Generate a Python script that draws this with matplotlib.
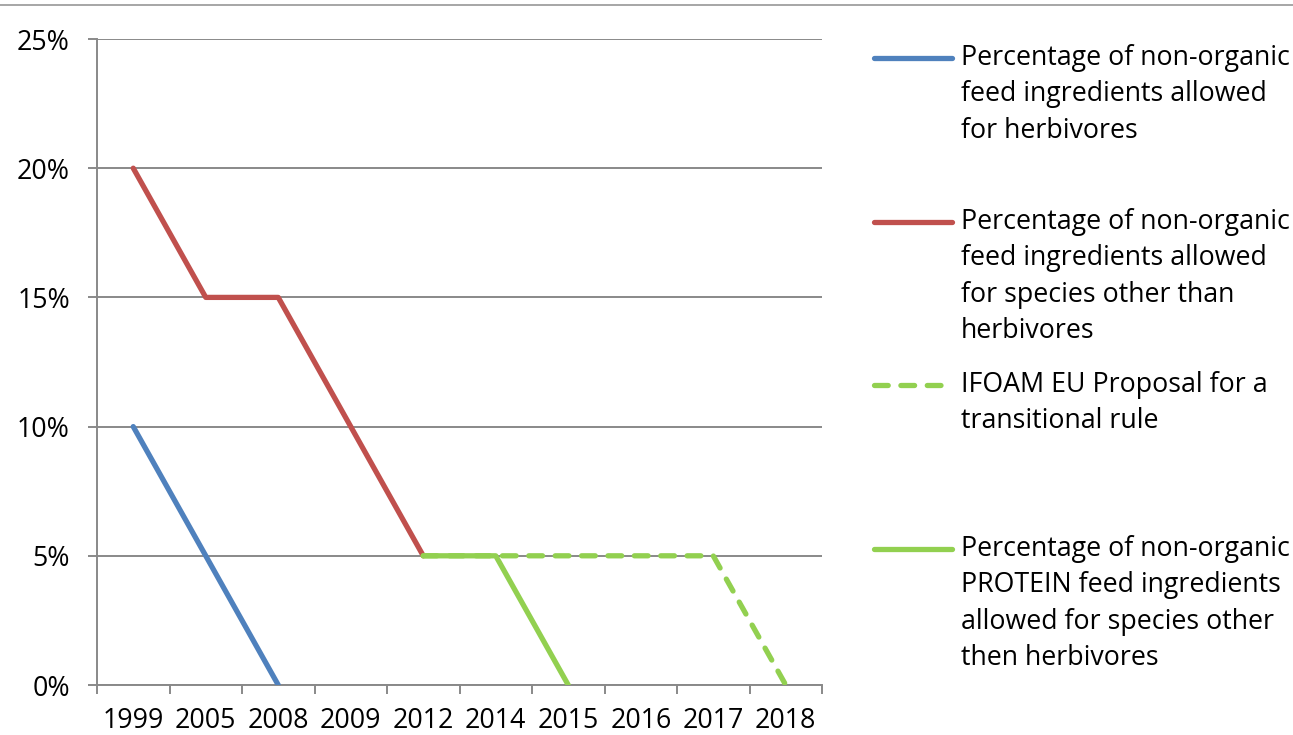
import matplotlib

matplotlib.use("Agg")
import matplotlib.pyplot as plt
from matplotlib.lines import Line2D
from matplotlib.ticker import FuncFormatter

plt.rcParams["font.family"] = ["Open Sans", "DejaVu Sans"]

# ---------------------------------------------------------------------------
# Data (values in percent).
# ---------------------------------------------------------------------------
years = ["1999", "2005", "2008", "2009", "2012", "2014", "2015", "2016", "2017", "2018"]

herbivores = [10, 5, 0]                      # 1999 .. 2008
other_species = [20, 15, 15, 10, 5]          # 1999 .. 2012
ifoam_proposal = [5, 5, 5, 5, 5, 0]          # 2012 .. 2018
protein = [5, 5, 0]                          # 2012 .. 2015

y_ticks = [0, 5, 10, 15, 20, 25]

legend_labels = [
    ["Percentage of non-organic", "feed ingredients allowed", "for herbivores"],
    ["Percentage of non-organic", "feed ingredients allowed", "for species other than", "herbivores"],
    ["IFOAM EU Proposal for a", "transitional rule"],
    ["Percentage of non-organic", "PROTEIN feed ingredients", "allowed for species other", "then herbivores"],
]

BLUE = "#4F81BD"
RED = "#C0504D"
GREEN = "#92D050"
GRID = "#898989"
FS = 19.3

W, H = 1293, 735
fig = plt.figure(figsize=(W / 100, H / 100), dpi=100)
ax = fig.add_axes([97 / W, 1 - 685 / H, (822 - 97) / W, (685 - 39) / H])

lw = 3.8
ax.plot(years[:3], herbivores, color=BLUE, lw=lw, solid_capstyle="round", zorder=3)
ax.plot(years[:5], other_species, color=RED, lw=lw, solid_capstyle="round", zorder=3)
ax.plot(years[4:], ifoam_proposal, color=GREEN, lw=lw, dashes=(2.6, 2.4),
        dash_capstyle="round", zorder=3)
ax.plot(years[4:7], protein, color=GREEN, lw=lw, solid_capstyle="round", zorder=4)

ax.set_xlim(-0.5, len(years) - 0.5)
ax.set_ylim(0, 25)
ax.set_yticks(y_ticks)
ax.yaxis.set_major_formatter(FuncFormatter(lambda v, _: f"{v:.0f}%"))
ax.yaxis.grid(True, color=GRID, lw=1.4, zorder=0)
ax.set_axisbelow(True)

# category boundaries carry the tick marks, labels sit in the middle
ax.set_xticks([i - 0.5 for i in range(len(years) + 1)], minor=True)
ax.tick_params(axis="x", which="major", length=0, pad=16, labelsize=FS)
ax.tick_params(axis="x", which="minor", length=6.5, width=1.4, color=GRID, direction="out")
ax.tick_params(axis="y", length=6.5, width=1.4, color=GRID, pad=13, labelsize=FS)

for side in ("top", "right"):
    ax.spines[side].set_visible(False)
for side in ("left", "bottom"):
    ax.spines[side].set_color(GRID)
    ax.spines[side].set_linewidth(1.4)

# thin frame line along the top of the image
fig.add_artist(Line2D([0, 1], [1 - 5 / H, 1 - 5 / H], color="#a6a6a6", lw=1.4))

# hand-made legend with wrapped labels
styles = [
    dict(color=BLUE),
    dict(color=RED),
    dict(color=GREEN, dashes=(2.6, 2.4), dash_capstyle="round"),
    dict(color=GREEN),
]
first_rows = [58, 222, 385, 549]
row_step = 36.3
for style, lines, y0 in zip(styles, legend_labels, first_rows):
    yf = 1 - y0 / H
    kw = dict(lw=lw, solid_capstyle="round")
    kw.update(style)
    fig.add_artist(Line2D([874 / W, 952 / W], [yf, yf], **kw))
    for k, text in enumerate(lines):
        fig.text(961 / W, 1 - (y0 + k * row_step) / H, text, fontsize=FS,
                 va="center", ha="left")

fig.savefig("out.png", dpi=100)
